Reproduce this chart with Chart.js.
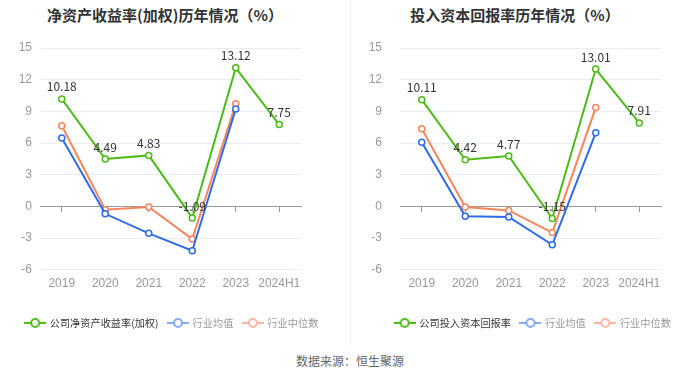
<!DOCTYPE html>
<html><head><meta charset="utf-8">
<script src="https://cdn.jsdelivr.net/npm/chart.js@4/dist/chart.umd.min.js"></script>
<style>
html,body{margin:0;padding:0;background:#fff;}
body{width:700px;height:378px;position:relative;overflow:hidden;font-family:"Noto Sans CJK SC","Noto Sans",sans-serif;}
.box{position:absolute;top:0;width:350px;height:340px;}
.title{position:absolute;top:4px;font-size:15px;font-weight:bold;color:#333;white-space:nowrap;transform:translateX(-50%);}
.sep{position:absolute;left:350px;top:0;width:1px;height:345px;background:#f2f2f2;}
.src{position:absolute;top:352px;left:350px;transform:translateX(-50%);font-size:12px;color:#666;white-space:nowrap;}
</style></head>
<body>
<div class="sep"></div>
<div class="title" style="left:165px">净资产收益率(加权)历年情况（%）</div>
<div class="title" style="left:515px">投入资本回报率历年情况（%）</div>
<div class="box" style="left:0"><canvas id="c1" width="350" height="340"></canvas></div>
<div class="box" style="left:350px"><canvas id="c2" width="350" height="340"></canvas></div>
<div class="src">数据来源：恒生聚源</div>
<script>
const categories = ["2019","2020","2021","2022","2023","2024H1"];
const yTicks = [-6,-3,0,3,6,9,12,15];

const roeCompany = [10.18, 4.49, 4.83, -1.09, 13.12, 7.75];
const roeIndustryMean = [6.47, -0.70, -2.55, -4.20, 9.23, null];
const roeIndustryMedian = [7.64, -0.32, -0.05, -3.09, 9.71, null];

const roicCompany = [10.11, 4.42, 4.77, -1.15, 13.01, 7.91];
const roicIndustryMean = [6.08, -0.92, -0.99, -3.63, 6.97, null];
const roicIndustryMedian = [7.36, -0.06, -0.38, -2.48, 9.36, null];

const GREEN = '#4cbb17', BLUE = '#2f6be8', ORANGE = '#f7845a';
const LEG_BLUE = '#86a8f0', LEG_ORANGE = '#f8b6a0';

function legendIcon(color){
  const c = document.createElement('canvas');
  c.width = 22; c.height = 12;
  const x = c.getContext('2d');
  x.strokeStyle = color; x.lineWidth = 2;
  x.beginPath(); x.moveTo(0,6); x.lineTo(22,6); x.stroke();
  x.fillStyle = '#fff';
  x.beginPath(); x.arc(11,6,4,0,Math.PI*2); x.fill(); x.stroke();
  return c;
}

const labelPlugin = {
  id:'valLabels',
  afterDatasetsDraw(chart){
    const ctx = chart.ctx;
    const meta = chart.getDatasetMeta(0);
    const data = chart.data.datasets[0].data;
    ctx.save();
    ctx.font = '12px "Noto Sans CJK SC","Noto Sans",sans-serif';
    ctx.fillStyle = '#333';
    ctx.textAlign = 'center';
    ctx.textBaseline = 'bottom';
    meta.data.forEach((pt,i)=>{
      if (data[i]==null) return;
      ctx.fillText(data[i].toFixed(2), pt.x, pt.y - 6);
    });
    ctx.restore();
  }
};

function makeChart(id, names, series, opt){
  const legendColors = [GREEN, LEG_BLUE, LEG_ORANGE];
  const textColors = ['#333', '#999', '#999'];
  const lineColors = [GREEN, BLUE, ORANGE];
  const datasets = series.map((d,i)=>({
    label: names[i], data: d,
    borderColor: lineColors[i], backgroundColor:'#fff',
    borderWidth: 2, pointRadius: 3, pointBorderWidth: 1.5,
    pointBackgroundColor:'#fff', pointBorderColor: lineColors[i],
    tension: 0, spanGaps: false, xAxisID:'x', yAxisID:'y'
  }));
  return new Chart(document.getElementById(id), {
    type:'line',
    data:{labels: categories, datasets},
    options:{
      responsive:false, animation:false,
      layout:{padding:{left:opt.padL, right:opt.padR, top:48, bottom:2}},
      plugins:{
        tooltip:{enabled:false},
        legend:{
          position:'bottom',
          labels:{
            usePointStyle:true, pointStyleWidth:19, padding:10,
            font:{size:10.2, family:'"Noto Sans CJK SC","Noto Sans",sans-serif'},
            generateLabels(chart){
              return chart.data.datasets.map((ds,i)=>({
                text: ds.label, pointStyle: legendIcon(legendColors[i]),
                fontColor: textColors[i], strokeStyle: legendColors[i],
                fillStyle:'#fff', lineWidth:0, hidden:false, datasetIndex:i
              }));
            }
          }
        }
      },
      scales:{
        x:{
          type:'category', offset:true,
          grid:{display:false, drawTicks:false},
          border:{display:false},
          ticks:{color:'#999', padding:7, font:{size:12}, maxRotation:0, minRotation:0, autoSkip:false},
          afterFit(s){ s.height = 38; }
        },
        x0:{
          type:'category', labels: categories, offset:true,
          position:{y:0},
          grid:{drawOnChartArea:false, drawTicks:true, tickLength:5, color:'#999'},
          border:{display:true, color:'#999', width:1},
          ticks:{display:false}
        },
        y:{
          min:-6, max:15,
          afterBuildTicks(s){ s.ticks = yTicks.map(v=>({value:v})); },
          grid:{color:(c)=> c.tick && c.tick.value===0 ? 'rgba(0,0,0,0)' : '#e8ecf4', drawTicks:false},
          border:{display:false},
          ticks:{color:'#999', padding:opt.tickPad, font:{size:12}},
          afterFit(s){ s.width = opt.yW; }
        },
        yR:{
          position:'right', display:true,
          grid:{display:false, drawTicks:false},
          border:{display:false},
          ticks:{display:false},
          afterFit(s){ s.width = opt.rW; }
        }
      }
    },
    plugins:[labelPlugin]
  });
}

makeChart('c1', ['公司净资产收益率(加权)','行业均值','行业中位数'],
  [roeCompany, roeIndustryMean, roeIndustryMedian],
  {padL:0, padR:6, yW:40, tickPad:8, rW:43});
makeChart('c2', ['公司投入资本回报率','行业均值','行业中位数'],
  [roicCompany, roicIndustryMean, roicIndustryMedian],
  {padL:16, padR:0, yW:34, tickPad:18, rW:39});
</script>
</body></html>
